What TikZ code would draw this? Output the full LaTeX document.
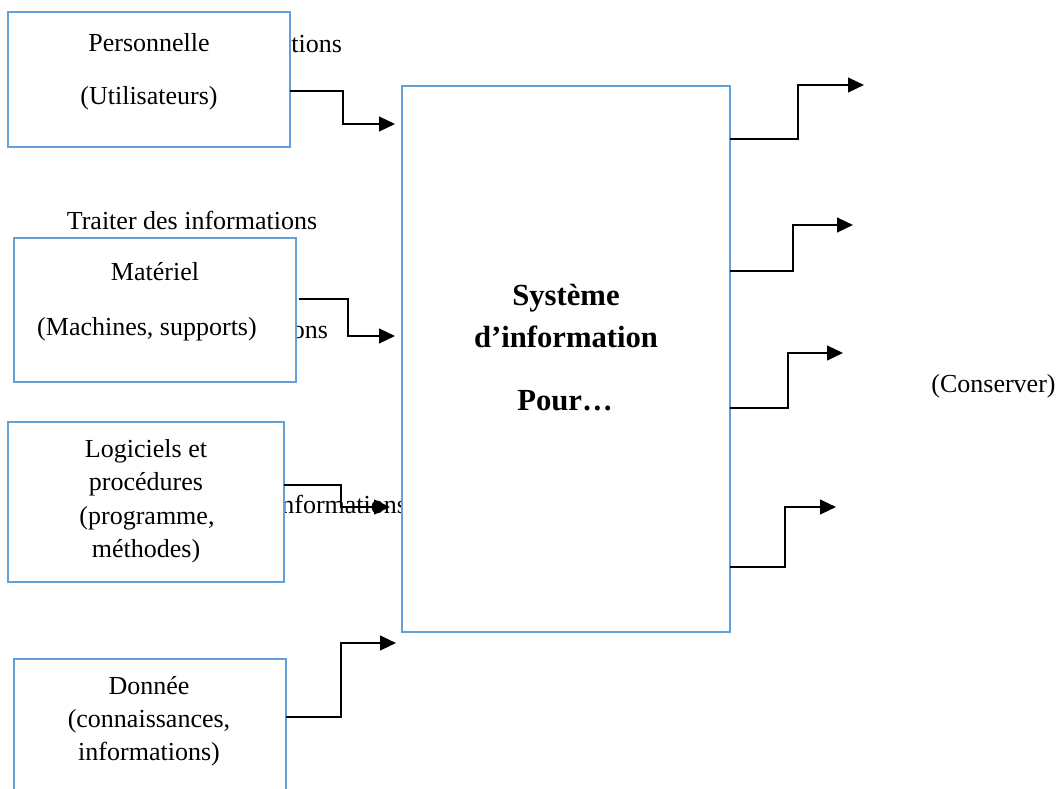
\documentclass[tikz,border=0pt]{standalone}
\usepackage{fontspec}
\setmainfont{Liberation Serif}
\usetikzlibrary{arrows.meta}
\definecolor{boxblue}{HTML}{62A0DA}
\begin{document}
\begin{tikzpicture}[x=0.75pt,y=-0.75pt,
  every node/.style={inner sep=0pt, outer sep=0pt},
  frame/.style={rectangle, draw=boxblue, line width=1.9pt, fill=white},
  txt/.style={anchor=base, font=\fontsize{19.5}{24}\selectfont},
  title/.style={anchor=base, font=\bfseries\fontsize{23}{28}\selectfont},
  flow/.style={draw=black, line width=1.8pt, -{Triangle[length=12pt,width=11pt]}}]
\useasboundingbox (0,0) rectangle (1061,789);

% captions partly hidden behind the boxes
\node[txt, anchor=base east] (cap1) at (342,52) {tions};
\node[txt, anchor=base east] (cap2) at (328,338) {ons};
\node[txt, anchor=base east] (cap3) at (407,513) {nformations};

% resource boxes
\node[frame, minimum width=282*0.75pt, minimum height=135*0.75pt] (pers) at (149,79.5) {};
\node[frame, minimum width=282*0.75pt, minimum height=144*0.75pt] (mat) at (155,310) {};
\node[frame, minimum width=276*0.75pt, minimum height=160*0.75pt] (log) at (146,502) {};
\node[frame, minimum width=272*0.75pt, minimum height=156*0.75pt] (don) at (150,737) {};

% information system
\node[frame, minimum width=328*0.75pt, minimum height=546*0.75pt] (sys) at (566,359) {};

% box texts
\node[txt] (pers1) at (149,51) {Personnelle};
\node[txt] (pers2) at (149,104) {(Utilisateurs)};
\node[txt] (traiter) at (192,229) {Traiter des informations};
\node[txt] (mat1) at (155,280) {Matériel};
\node[txt] (mat2) at (147,335) {(Machines, supports)};
\node[txt] (log1) at (146,457) {Logiciels et};
\node[txt] (log2) at (146,490.5) {procédures};
\node[txt] (log3) at (147,524) {(programme,};
\node[txt] (log4) at (146,557) {méthodes)};
\node[txt] (don1) at (149,694) {Donnée};
\node[txt] (don2) at (149,727) {(connaissances,};
\node[txt] (don3) at (149,760) {informations)};

\node[title] (sys1) at (566,305) {Système};
\node[title] (sys2) at (566,347) {d’information};
\node[title] (sys3) at (565,410) {Pour…};

\node[txt] (conserver) at (993.5,392) {(Conserver)};

% inputs
\draw[flow, shorten >=5.25pt] (pers.east |- 0,91) -| (343,124) -- (sys.west |- 0,124);
\draw[flow, shorten <=2.25pt, shorten >=5.25pt] (mat.east |- 0,299) -| (348,336) -- (sys.west |- 0,336);
\draw[flow, shorten >=9pt] (log.east |- 0,485) -| (341,507) -- (sys.west |- 0,507);
\draw[flow, shorten >=4.5pt] (don.east |- 0,717) -| (341,643) -- (sys.west |- 0,643);

% outputs
\coordinate (out1) at (864,85);
\coordinate (out2) at (853,225);
\coordinate (out3) at (843,353);
\coordinate (out4) at (836,507);
\draw[flow] (sys.east |- 0,139) -| (798,85) -- (out1);
\draw[flow] (sys.east |- 0,271) -| (793,225) -- (out2);
\draw[flow] (sys.east |- 0,408) -| (788,353) -- (out3);
\draw[flow] (sys.east |- 0,567) -| (785,507) -- (out4);
\end{tikzpicture}
\end{document}
